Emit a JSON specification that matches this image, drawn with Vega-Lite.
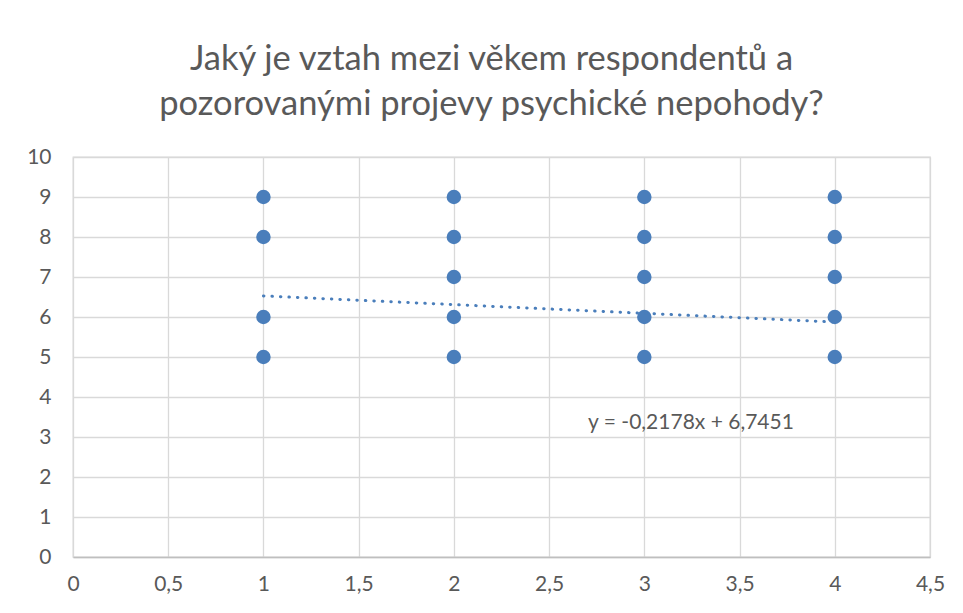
{
  "$schema": "https://vega.github.io/schema/vega-lite/v6.json",
  "autosize": "none",
  "width": 857,
  "height": 400,
  "padding": {"left": 73, "top": 157, "right": 33, "bottom": 56},
  "background": "white",
  "title": {
    "text": ["Jaký je vztah mezi věkem respondentů a", "pozorovanými projevy psychické nepohody?"],
    "font": "Lato",
    "fontSize": 34.5,
    "fontWeight": "normal",
    "color": "#595959",
    "anchor": "middle",
    "frame": "group",
    "lineHeight": 45,
    "offset": 24,
    "dx": -10
  },
  "datasets": {
    "points": [
      {"vek": 1, "nepohoda": 5}, {"vek": 1, "nepohoda": 6}, {"vek": 1, "nepohoda": 8}, {"vek": 1, "nepohoda": 9},
      {"vek": 2, "nepohoda": 5}, {"vek": 2, "nepohoda": 6}, {"vek": 2, "nepohoda": 7}, {"vek": 2, "nepohoda": 8}, {"vek": 2, "nepohoda": 9},
      {"vek": 3, "nepohoda": 5}, {"vek": 3, "nepohoda": 6}, {"vek": 3, "nepohoda": 7}, {"vek": 3, "nepohoda": 8}, {"vek": 3, "nepohoda": 9},
      {"vek": 4, "nepohoda": 5}, {"vek": 4, "nepohoda": 6}, {"vek": 4, "nepohoda": 7}, {"vek": 4, "nepohoda": 8}, {"vek": 4, "nepohoda": 9}
    ],
    "trend": [
      {"vek": 1, "nepohoda": 6.5273},
      {"vek": 4, "nepohoda": 5.8739}
    ],
    "label": [
      {"vek": 3.245, "nepohoda": 3.35, "text": "y = -0,2178x + 6,7451"}
    ]
  },
  "encoding": {
    "x": {
      "field": "vek", "type": "quantitative",
      "scale": {"domain": [0, 4.5], "nice": false, "zero": false},
      "axis": {
        "title": null,
        "values": [0, 0.5, 1, 1.5, 2, 2.5, 3, 3.5, 4, 4.5],
        "labelExpr": "replace(toString(datum.value), '.', ',')"
      }
    },
    "y": {
      "field": "nepohoda", "type": "quantitative",
      "scale": {"domain": [0, 10], "nice": false},
      "axis": {
        "title": null,
        "values": [0, 1, 2, 3, 4, 5, 6, 7, 8, 9, 10],
        "labelExpr": "toString(datum.value)",
        "domain": false
      }
    }
  },
  "layer": [
    {
      "data": {"name": "points"},
      "mark": {"type": "point", "filled": true, "shape": "circle", "size": 210, "color": "#4a7ebb", "opacity": 1}
    },
    {
      "data": {"name": "trend"},
      "mark": {"type": "line", "color": "#4a7ebb", "strokeWidth": 3, "strokeDash": [0.5, 8], "strokeCap": "round"}
    },
    {
      "data": {"name": "label"},
      "mark": {"type": "text", "font": "Lato", "fontSize": 21, "color": "#595959", "align": "center", "baseline": "middle"},
      "encoding": {
        "text": {"field": "text"}
      }
    }
  ],
  "config": {
    "view": {"stroke": "#d9d9d9", "strokeWidth": 1.3},
    "axis": {
      "grid": true, "gridColor": "#d9d9d9", "gridWidth": 1.3,
      "ticks": false,
      "labelFont": "Lato", "labelFontSize": 21, "labelColor": "#595959",
      "labelFlush": false, "labelOverlap": false, "labelBound": false
    },
    "axisX": {"domainColor": "#bfbfbf", "domainWidth": 1.3, "labelPadding": 16},
    "axisY": {"labelPadding": 22}
  }
}
